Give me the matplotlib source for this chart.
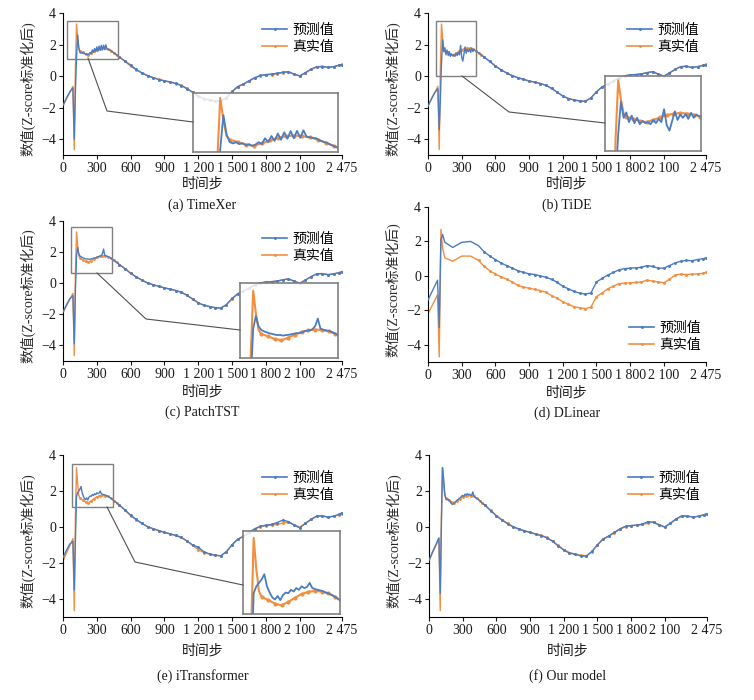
import matplotlib
matplotlib.use('Agg')
import matplotlib.pyplot as plt
from matplotlib.lines import Line2D
from matplotlib.patches import Rectangle

plt.rcParams['font.family'] = ['Liberation Serif', 'Noto Sans CJK SC']

# ---------------- data ----------------
steps_truth = [0, 30, 60, 88, 100, 110, 120, 130, 140, 150, 175, 200, 225, 250, 275, 300, 325, 350,
               375, 400, 425, 450, 475,
               500, 550, 600, 650, 700, 750, 800, 850, 900, 950,
               1000, 1050, 1100, 1150, 1200, 1250, 1300, 1350, 1400, 1450,
               1500, 1550, 1600, 1650, 1700, 1750, 1800, 1850, 1900, 1950,
               2000, 2050, 2100, 2150, 2200, 2250, 2300, 2350, 2400, 2450, 2475]
truth = [-1.9, -1.45, -1.05, -0.65, -4.65, 0.5, 3.3, 2.4, 1.75, 1.6, 1.5, 1.4, 1.35, 1.45, 1.57, 1.68, 1.74, 1.77,
         1.75, 1.7, 1.6, 1.47, 1.35,
         1.2, 0.93, 0.63, 0.4, 0.2, 0.02, -0.1, -0.2, -0.3, -0.38,
         -0.47, -0.58, -0.78, -1.02, -1.26, -1.42, -1.5, -1.57, -1.6, -1.38,
         -1.0, -0.68, -0.52, -0.32, -0.12, 0.02, 0.08, 0.1, 0.14, 0.22,
         0.28, 0.13, 0.0, 0.2, 0.42, 0.6, 0.62, 0.55, 0.6, 0.68, 0.75]

steps_pred = [0, 30, 60, 88, 100, 110, 120, 130,
              140, 150, 160, 170, 180, 190, 200, 210, 220, 230,
              240, 250, 260, 270, 280, 290, 300, 310, 320, 330,
              340, 350, 360, 370, 380, 390, 400, 410, 420, 430,
              440, 450, 460, 470, 480,
              500, 550, 600, 650, 700, 750, 800, 850, 900, 950,
              1000, 1050, 1100, 1150, 1200, 1250, 1300, 1350, 1400, 1450,
              1500, 1550, 1600, 1650, 1700, 1750, 1800, 1850, 1900, 1950,
              2000, 2050, 2100, 2150, 2200, 2250, 2300, 2350, 2400, 2450, 2475]

pred_timexer = [-1.85, -1.4, -1.0, -0.75, -4.0, -1.0, 1.2, 2.6,
                1.8, 1.5, 1.45, 1.5, 1.42, 1.46, 1.38, 1.42, 1.35, 1.4,
                1.5, 1.42, 1.66, 1.5, 1.75, 1.55, 1.85, 1.6, 1.9, 1.64,
                1.95, 1.66, 1.96, 1.68, 1.98, 1.72, 1.7, 1.67, 1.66, 1.58,
                1.53, 1.49, 1.43, 1.37, 1.31,
                1.22, 0.95, 0.7, 0.42, 0.2, 0.03, -0.1, -0.22, -0.3, -0.37,
                -0.46, -0.6, -0.8, -1.03, -1.28, -1.42, -1.5, -1.58, -1.6, -1.36,
                -0.97, -0.66, -0.5, -0.3, -0.1, 0.04, 0.1, 0.13, 0.18, 0.25,
                0.27, 0.12, 0.02, 0.22, 0.44, 0.58, 0.6, 0.56, 0.6, 0.7, 0.73]

pred_tide = [-1.9, -1.45, -1.05, -0.8, -3.4, -1.5, 0.8, 2.3,
             1.55, 1.8, 1.35, 1.65, 1.3, 1.55, 1.25, 1.4, 1.3, 1.35,
             1.25, 1.45, 1.3, 1.5, 1.35, 1.95, 1.2, 0.95, 1.4, 1.85,
             1.45, 1.7, 1.55, 1.72, 1.5, 1.78, 1.55, 1.7, 1.62, 1.58,
             1.52, 1.47, 1.42, 1.38, 1.32,
             1.2, 0.93, 0.64, 0.4, 0.2, 0.03, -0.1, -0.2, -0.32, -0.38,
             -0.47, -0.58, -0.78, -1.02, -1.26, -1.42, -1.52, -1.57, -1.6, -1.38,
             -1.0, -0.68, -0.52, -0.32, -0.12, 0.02, 0.08, 0.1, 0.14, 0.22,
             0.28, 0.13, 0.0, 0.2, 0.42, 0.6, 0.62, 0.55, 0.6, 0.68, 0.72]

pred_patchtst = [-1.85, -1.4, -1.0, -0.8, -3.9, -0.5, 1.8, 2.3,
                 1.9, 1.75, 1.7, 1.66, 1.62, 1.6, 1.57, 1.55, 1.56, 1.53,
                 1.55, 1.56, 1.58, 1.6, 1.63, 1.62, 1.66, 1.7, 1.72, 1.74,
                 1.78, 1.9, 2.2, 1.8, 1.76, 1.74, 1.72, 1.68, 1.64, 1.58,
                 1.53, 1.48, 1.42, 1.37, 1.32,
                 1.2, 0.94, 0.64, 0.4, 0.2, 0.02, -0.1, -0.2, -0.3, -0.38,
                 -0.47, -0.58, -0.78, -1.02, -1.26, -1.42, -1.5, -1.57, -1.6, -1.37,
                 -0.98, -0.68, -0.52, -0.32, -0.12, 0.02, 0.08, 0.1, 0.14, 0.22,
                 0.28, 0.13, 0.0, 0.2, 0.42, 0.6, 0.62, 0.55, 0.6, 0.68, 0.75]

pred_itrans = [-1.7, -1.3, -0.95, -0.8, -3.5, -0.8, 1.7, 1.9,
               2.0, 2.1, 2.25, 1.9, 1.72, 1.58, 1.52, 1.62, 1.5, 1.65,
               1.72, 1.7, 1.8, 1.75, 1.85, 1.8, 1.9, 1.85, 1.88, 2.0,
               1.85, 1.82, 1.8, 1.78, 1.76, 1.72, 1.7, 1.66, 1.62, 1.57,
               1.52, 1.47, 1.42, 1.37, 1.32,
               1.22, 0.95, 0.66, 0.42, 0.2, 0.02, -0.1, -0.2, -0.3, -0.38,
               -0.47, -0.58, -0.78, -1.0, -1.12, -1.38, -1.5, -1.57, -1.6, -1.37,
               -0.98, -0.68, -0.52, -0.3, -0.1, 0.04, 0.1, 0.14, 0.25, 0.38,
               0.3, 0.1, -0.05, 0.2, 0.42, 0.6, 0.62, 0.55, 0.6, 0.7, 0.8]

pred_ours = [-1.85, -1.4, -1.0, -0.6, -3.7, 0.0, 3.3, 2.7,
             1.9, 1.55, 1.5, 1.55, 1.45, 1.4, 1.3, 1.25, 1.32, 1.38,
             1.42, 1.5, 1.52, 1.6, 1.62, 1.72, 1.75, 1.7, 1.82, 1.78,
             1.85, 1.8, 1.82, 1.78, 1.75, 1.95, 1.72, 1.65, 1.6, 1.56,
             1.52, 1.47, 1.42, 1.36, 1.3,
             1.2, 0.9, 0.62, 0.38, 0.18, 0.0, -0.12, -0.22, -0.3, -0.4,
             -0.48, -0.6, -0.8, -1.05, -1.28, -1.45, -1.52, -1.6, -1.62, -1.36,
             -0.98, -0.66, -0.5, -0.3, -0.1, 0.04, 0.08, 0.1, 0.16, 0.3,
             0.26, 0.1, 0.0, 0.22, 0.45, 0.62, 0.6, 0.55, 0.6, 0.68, 0.74]

steps_dl = [0, 85, 100, 115, 130, 150, 220, 300, 380, 450,
            500, 550, 600, 650, 700, 750, 800, 850, 900, 950,
            1000, 1050, 1100, 1150, 1200, 1250, 1300, 1350, 1400, 1450,
            1500, 1550, 1600, 1650, 1700, 1750, 1800, 1850, 1900, 1950,
            2000, 2050, 2100, 2150, 2200, 2250, 2300, 2350, 2400, 2450, 2475]
pred_dlinear = [-1.4, -0.25, -3.0, 2.1, 2.4, 1.95, 1.65, 1.95, 2.0, 1.75,
                1.4, 1.15, 0.95, 0.75, 0.6, 0.45, 0.3, 0.2, 0.12, 0.08,
                0.0, -0.08, -0.2, -0.38, -0.6, -0.75, -0.9, -1.0, -1.05, -1.0,
                -0.35, -0.15, 0.05, 0.2, 0.35, 0.42, 0.45, 0.47, 0.5, 0.6,
                0.55, 0.45, 0.45, 0.6, 0.75, 0.85, 0.9, 0.88, 0.95, 1.0, 1.05]
truth_dlinear = [-2.2, -1.1, -4.7, 2.7, 1.6, 1.05, 0.85, 1.15, 1.15, 0.9,
                 0.55, 0.3, 0.1, -0.05, -0.2, -0.35, -0.55, -0.65, -0.72, -0.78,
                 -0.85, -0.95, -1.15, -1.3, -1.5, -1.65, -1.8, -1.85, -1.9, -1.82,
                 -1.2, -1.0, -0.75, -0.6, -0.45, -0.42, -0.4, -0.38, -0.35, -0.25,
                 -0.3, -0.35, -0.4, -0.2, 0.05, 0.1, 0.08, 0.1, 0.12, 0.15, 0.2]

xticks = [0, 300, 600, 900, 1200, 1500, 1800, 2100, 2475]
xtick_labels = ['0', '300', '600', '900', '1 200', '1 500', '1 800', '2 100', '2 475']
yticks = [-4, -2, 0, 2, 4]
label_pred = '预测值'
label_true = '真实值'

BLUE = '#4a7cc2'
ORANGE = '#f28e3e'
GRAY = '#808080'

W, H = 754, 700
fig = plt.figure(figsize=(W / 100, H / 100), dpi=100)


def fbox(l, t, r, b):
    return [l / W, 1 - b / H, (r - l) / W, (b - t) / H]


panels = [
    dict(cap='(a) TimeXer', box=(63, 13, 342, 155), sp=steps_pred, p=pred_timexer, st=steps_truth, t=truth,
         leg=(262, 24), xl=184, cy=205,
         inset=dict(rect=(35, 488, 1.1, 3.5), box=(193, 93, 338, 152),
                    conn=[(88, 58), (107, 111), (193, 122)])),
    dict(cap='(b) TiDE', box=(428, 13, 706, 155), sp=steps_pred, p=pred_tide, st=steps_truth, t=truth,
         leg=(627, 24), xl=184, cy=205,
         inset=dict(rect=(71, 427, 0.0, 3.5), box=(605, 76, 701, 151),
                    conn=[(462, 76), (509, 112), (605, 123)])),
    dict(cap='(c) PatchTST', box=(63, 221, 342, 361), sp=steps_pred, p=pred_patchtst, st=steps_truth, t=truth,
         leg=(262, 233), xl=392, cy=412,
         inset=dict(rect=(71, 435, 0.65, 3.6), box=(240, 283, 338, 358),
                    conn=[(97, 273), (146, 319), (240, 330)])),
    dict(cap='(d) DLinear', box=(428, 207, 706, 362), sp=steps_dl, p=pred_dlinear, st=steps_dl, t=truth_dlinear,
         leg=(629, 322), xl=393, cy=413, inset=None),
    dict(cap='(e) iTransformer', box=(63, 455, 342, 617), sp=steps_pred, p=pred_itrans, st=steps_truth, t=truth,
         leg=(262, 472), xl=651, cy=676,
         inset=dict(rect=(80, 444, 1.1, 3.5), box=(243, 531, 340, 614),
                    conn=[(107, 507), (135, 562), (243, 585)])),
    dict(cap='(f) Our model', box=(429, 455, 707, 617), sp=steps_pred, p=pred_ours, st=steps_truth, t=truth,
         leg=(628, 472), xl=651, cy=676, inset=None),
]

for P in panels:
    l, t, r, b = P['box']
    ax = fig.add_axes(fbox(l, t, r, b))
    ax.plot(P['st'], P['t'], color=ORANGE, lw=1.0, marker='o', ms=1.1, markevery=slice(9, None), zorder=2)
    ax.plot(P['sp'], P['p'], color=BLUE, lw=1.0, marker='o', ms=1.1,
            markevery=slice(10 if P['sp'] is steps_dl else 43, None), zorder=3)
    ax.set_xlim(0, 2475)
    ax.set_ylim(-5, 4)
    ax.set_xticks(xticks)
    ax.set_xticklabels(xtick_labels)
    ax.set_yticks(yticks)
    ax.tick_params(direction='out', length=3, width=0.8, labelsize=10, pad=2, colors='#1a1a1a')
    for s in ('top', 'right'):
        ax.spines[s].set_visible(False)
    for s in ('left', 'bottom'):
        ax.spines[s].set_linewidth(0.8)
    ax.set_ylabel('数值(Z-score标准化后)', fontsize=10, color='#2a2a2a')
    ax.yaxis.set_label_coords(-0.10, 0.47)
    cx = (l + r) / 2
    fig.text(cx / W, 1 - P['xl'] / H, '时间步', ha='center', va='center', fontsize=10, color='#1a1a1a')
    fig.text(cx / W, 1 - P['cy'] / H, P['cap'], ha='center', va='center', fontsize=10, color='#1a1a1a')

    handles = [Line2D([], [], color=BLUE, lw=1.2, marker='o', ms=1.1),
               Line2D([], [], color=ORANGE, lw=1.2, marker='o', ms=1.1)]
    lx, ly = P['leg']
    ax.legend(handles, [label_pred, label_true], loc='upper left',
              bbox_to_anchor=(lx / W, 1 - ly / H), bbox_transform=fig.transFigure,
              frameon=False, fontsize=10, handlelength=1.8, handletextpad=0.4,
              labelspacing=0.25, borderpad=0, borderaxespad=0)

    ins = P['inset']
    if ins is not None:
        x0, x1, y0, y1 = ins['rect']
        ax.add_patch(Rectangle((x0, y0), x1 - x0, y1 - y0, fill=False, ec=GRAY, lw=1.0, zorder=5))
        il, it, ir, ib = ins['box']
        iax = fig.add_axes(fbox(il, it, ir, ib))
        iax.set_facecolor((1, 1, 1, 0.82))
        iax.plot(P['st'], P['t'], color=ORANGE, lw=1.5, marker='o', ms=2, markevery=slice(9, None))
        iax.plot(P['sp'], P['p'], color=BLUE, lw=1.3)
        iax.set_xlim(x0, x1)
        iax.set_ylim(y0, y1)
        iax.set_xticks([])
        iax.set_yticks([])
        for s in iax.spines.values():
            s.set_color(GRAY)
            s.set_linewidth(1.2)
        xs = [p[0] / W for p in ins['conn']]
        ys = [1 - p[1] / H for p in ins['conn']]
        fig.add_artist(Line2D(xs, ys, transform=fig.transFigure, color='#505050', lw=0.8))

fig.savefig('out.png', dpi=100)
